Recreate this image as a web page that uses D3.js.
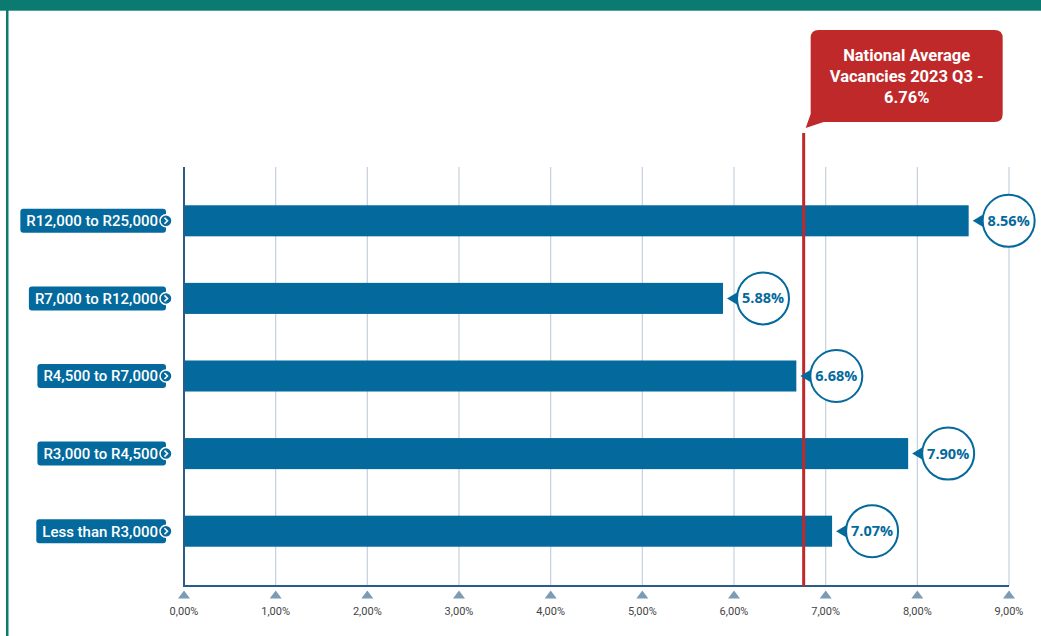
<!DOCTYPE html>
<html>
<head>
<meta charset="utf-8">
<script src="https://cdn.jsdelivr.net/npm/d3@7"></script>
<style>
  body { margin: 0; background: #fff; }
  svg { display: block; }
</style>
</head>
<body>
<div id="chart"></div>
<script>
// data
const categories = ['R12,000 to R25,000', 'R7,000 to R12,000', 'R4,500 to R7,000', 'R3,000 to R4,500', 'Less than R3,000']
const values = [8.56, 5.88, 6.68, 7.90, 7.07]
const nationalAverage = 6.76
const calloutLines = ['National Average', 'Vacancies 2023 Q3 -', '6.76%']
const ticks = [0, 1, 2, 3, 4, 5, 6, 7, 8, 9]

const svgWidth = 1041, svgHeight = 636
const blue = '#04699c', red = '#c0292a', teal = '#0b7a70'

let svg = d3.select('#chart')
    .append('svg')
    .attr('width', svgWidth)
    .attr('height', svgHeight)

// frame
svg.append('rect').attr('x', 0).attr('y', 0).attr('width', svgWidth).attr('height', 10).attr('fill', teal)
svg.append('rect').attr('x', 0).attr('y', 10).attr('width', svgWidth).attr('height', 1).attr('fill', '#4fa69d')
svg.append('rect').attr('x', 6).attr('y', 10).attr('width', 2.5).attr('height', svgHeight).attr('fill', teal)

let xScale = d3.scaleLinear().domain([0, 9]).range([184, 1009])
let yScale = d3.scaleBand().domain(categories).range([182, 570]).paddingInner(0.6).paddingOuter(0.3)
const plotTop = 167, plotBottom = 586

// gridlines
svg.selectAll('.grid')
    .data(ticks.slice(1))
    .join('line')
    .attr('x1', d => xScale(d)).attr('x2', d => xScale(d))
    .attr('y1', plotTop).attr('y2', plotBottom)
    .attr('stroke', '#c3d0de').attr('stroke-width', 1.2)

// bars
svg.selectAll('.bar')
    .data(values)
    .join('rect')
    .attr('x', xScale(0))
    .attr('y', (d, i) => yScale(categories[i]))
    .attr('width', d => xScale(d) - xScale(0))
    .attr('height', yScale.bandwidth())
    .attr('fill', blue)

// axes lines
svg.append('line').attr('x1', xScale(0)).attr('x2', xScale(0)).attr('y1', plotTop).attr('y2', plotBottom)
    .attr('stroke', '#2b5b86').attr('stroke-width', 2)
svg.append('line').attr('x1', xScale(0) - 1).attr('x2', xScale(9)).attr('y1', plotBottom).attr('y2', plotBottom)
    .attr('stroke', '#2b5b86').attr('stroke-width', 2)

// ticks: triangles and labels
let tickG = svg.selectAll('.tick')
    .data(ticks)
    .join('g')
    .attr('transform', d => `translate(${xScale(d)},${plotBottom})`)
tickG.append('path')
    .attr('d', 'M0,4.5 L6,12.5 L-6,12.5 Z')
    .attr('fill', '#7c9bb5')
tickG.append('text')
    .attr('y', 29)
    .attr('text-anchor', 'middle')
    .attr('font-family', 'Roboto, sans-serif')
    .attr('font-size', 11)
    .attr('fill', '#444')
    .text(d => d.toFixed(2).replace('.', ',') + '%')

// red average line
svg.append('line')
    .attr('x1', xScale(nationalAverage)).attr('x2', xScale(nationalAverage))
    .attr('y1', 133).attr('y2', plotBottom)
    .attr('stroke', red).attr('stroke-width', 3)

// callout
let cx = xScale(nationalAverage)
svg.append('path')
    .attr('d', `M${cx + 15},30 H${cx + 191} Q${cx + 199},30 ${cx + 199},38 V114 Q${cx + 199},122 ${cx + 191},122 H${cx + 20} L${cx + 2},128 L${cx + 7},114 V38 Q${cx + 7},30 ${cx + 15},30 Z`)
    .attr('fill', red)
svg.append('text')
    .attr('font-family', 'Roboto, sans-serif')
    .attr('font-weight', 'bold')
    .attr('font-size', 16.5)
    .attr('fill', '#fff')
    .attr('text-anchor', 'middle')
    .selectAll('tspan')
    .data(calloutLines)
    .join('tspan')
    .attr('x', cx + 103)
    .attr('y', (d, i) => 61 + i * 21)
    .text(d => d)

// value bubbles
let bubble = svg.selectAll('.bubble')
    .data(values)
    .join('g')
    .attr('transform', (d, i) => `translate(${xScale(d)},${yScale(categories[i]) + yScale.bandwidth() / 2})`)
bubble.append('path')
    .attr('d', 'M4,0 L14,-6 L14,6 Z')
    .attr('fill', blue)
bubble.append('circle')
    .attr('cx', 40)
    .attr('r', 26)
    .attr('fill', '#fff')
    .attr('stroke', blue)
    .attr('stroke-width', 2)
bubble.append('text')
    .attr('x', 40)
    .attr('dy', '0.35em')
    .attr('text-anchor', 'middle')
    .attr('font-family', '"Open Sans", sans-serif')
    .attr('font-weight', 'bold')
    .attr('font-size', 14.5)
    .attr('fill', blue)
    .text(d => d.toFixed(2) + '%')

// category labels
let label = svg.selectAll('.label')
    .data(categories)
    .join('g')
    .attr('transform', d => `translate(166,${yScale(d) + yScale.bandwidth() / 2})`)
label.each(function(d){
    let g = d3.select(this)
    let t = g.append('text')
        .attr('x', -8)
        .attr('dy', '0.36em')
        .attr('text-anchor', 'end')
        .attr('font-family', 'Roboto, sans-serif')
        .attr('font-weight', 500)
        .attr('font-size', 15)
        .attr('fill', '#fff')
        .text(d)
    let w = t.node().getComputedTextLength()
    g.insert('rect', 'text')
        .attr('x', -w - 14)
        .attr('y', -12)
        .attr('width', w + 14)
        .attr('height', 24)
        .attr('rx', 3)
        .attr('fill', blue)
})
label.append('circle')
    .attr('r', 6)
    .attr('fill', blue)
    .attr('stroke', '#fff')
    .attr('stroke-width', 1.5)
label.append('path')
    .attr('d', 'M-1.5,-3 L1.5,0 L-1.5,3')
    .attr('fill', 'none')
    .attr('stroke', '#fff')
    .attr('stroke-width', 1.6)
</script>
</body>
</html>
